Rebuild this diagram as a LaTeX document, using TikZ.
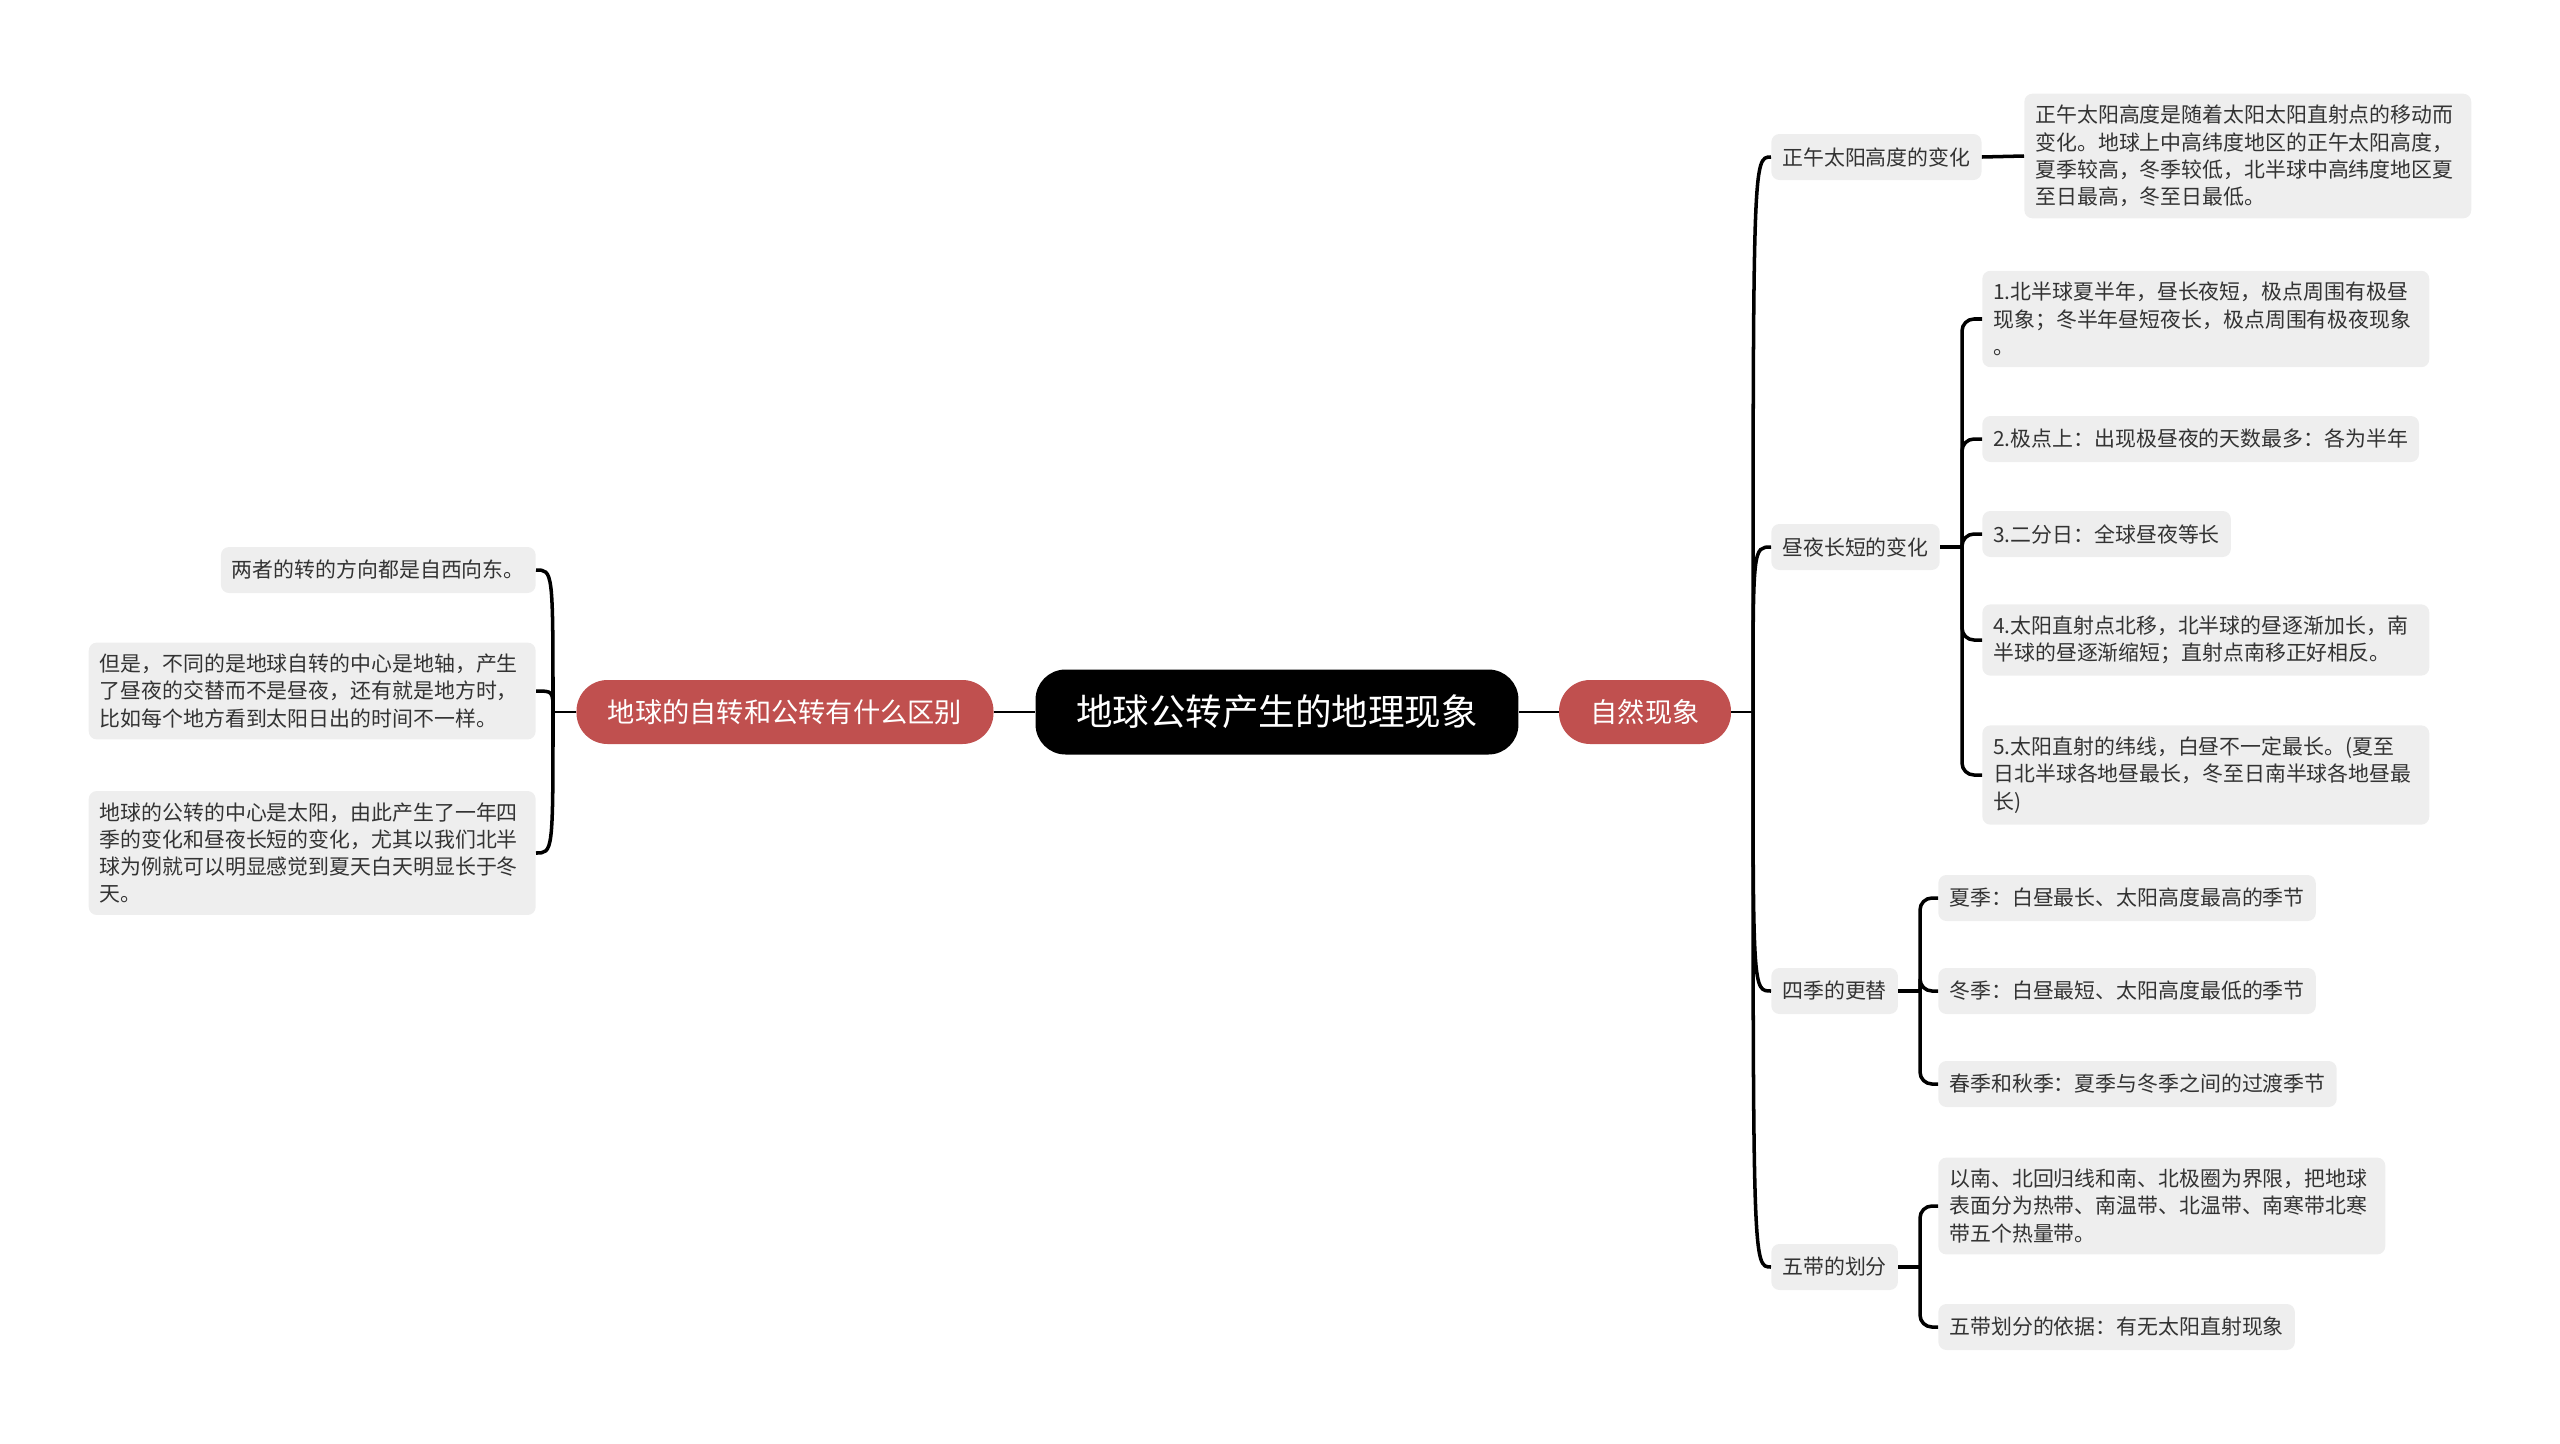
\documentclass[tikz,border=0pt]{standalone}
\usepackage{fontspec}
\setmainfont{Noto Sans CJK SC}
\usepackage{xcolor}
\usepackage{tikz}
\usetikzlibrary{positioning,calc}
\definecolor{ink}      {HTML}{000000}
\definecolor{ink2}     {HTML}{333333}
\definecolor{cardbg}   {HTML}{EEEEEE}
\definecolor{brick}    {HTML}{C0504F}
\tikzset{
  root/.style  = {rounded corners=0.6cm, fill=ink, text=white,
                  minimum height=1.7cm, minimum width=9.66cm, align=center,
                  font=\fontsize{20.8}{25}\selectfont, inner sep=0pt},
  topic/.style = {rounded corners=0.62cm, fill=brick, text=white,
                  minimum height=1.28cm, align=center,
                  font=\fontsize{15.5}{18}\selectfont, inner xsep=0.63cm, inner ysep=0pt},
  sub/.style   = {rounded corners=0.16cm, fill=cardbg, text=ink2,
                  minimum height=0.92cm, align=left,
                  font=\fontsize{11.9}{15.5}\selectfont, inner xsep=0.22cm, inner ysep=0.23cm},
  leafw/.style = {sub, text width=8.5cm},
  link/.style  = {draw=ink, line width=1.5pt},
  bow/.style   = {draw=ink, line width=2pt},
  elbow/.style = {draw=ink, line width=2pt, rounded corners=0.24cm},
}

\begin{document}
\begin{tikzpicture}[x=0.02cm, y=-0.02cm]
  \useasboundingbox (0,0) rectangle (2560,1444);

  % centre
  \node[root] (hub) at (1277,712) {地球公转产生的地理现象};
  \node[topic] (diff) at (785,712) {地球的自转和公转有什么区别};
  \node[topic] (nat) at (1645,712) {自然现象};
  \draw[link] (diff) -- (hub) -- (nat);

  % left column
  \coordinate (lj) at (553,712);
  \node[sub, anchor=east] (dir) at (536,570) {两者的转的方向都是自西向东。};
  \node[leafw, anchor=east] (rot) at (536,691)
    {但是，不同的是地球自转的中心是地轴，产生\\
     了昼夜的交替而不是昼夜，还有就是地方时，\\
     比如每个地方看到太阳日出的时间不一样。};
  \node[leafw, anchor=east] (rev) at (536,853)
    {地球的公转的中心是太阳，由此产生了一年四\\
     季的变化和昼夜长短的变化，尤其以我们北半\\
     球为例就可以明显感觉到夏天白天明显长于冬\\
     天。};
  \draw[link] (diff.west) -- (lj);
  \foreach \n in {dir,rot,rev}
    \draw[bow] (lj) .. controls (lj |- \n.east) .. (\n.east);

  % right column
  \coordinate (rj) at (1753,712);
  \node[sub, anchor=west] (noon) at (1771,157) {正午太阳高度的变化};
  \node[sub, anchor=west] (day) at (1771,547) {昼夜长短的变化};
  \node[sub, anchor=west] (season) at (1771,991) {四季的更替};
  \node[sub, anchor=west] (zone) at (1771,1267) {五带的划分};
  \draw[link] (nat.east) -- (rj);
  \foreach \n in {noon,day,season,zone}
    \draw[bow] (rj) .. controls (rj |- \n.west) .. (\n.west);

  % noon height
  \node[leafw, anchor=west] (noon1) at (2024,156)
    {正午太阳高度是随着太阳太阳直射点的移动而\\
     变化。地球上中高纬度地区的正午太阳高度，\\
     夏季较高，冬季较低，北半球中高纬度地区夏\\
     至日最高，冬至日最低。};
  \draw[bow] (noon.east) -- (noon1.west);

  % day length
  \coordinate (dj) at (1962,547);
  \node[leafw, anchor=west] (day1) at (1982,319)
    {1.北半球夏半年，昼长夜短，极点周围有极昼\\
     现象；冬半年昼短夜长，极点周围有极夜现象\\
     。};
  \node[sub, anchor=west] (day2) at (1982,439) {2.极点上：出现极昼夜的天数最多：各为半年};
  \node[sub, anchor=west] (day3) at (1982,534) {3.二分日：全球昼夜等长};
  \node[leafw, anchor=west] (day4) at (1982,640)
    {4.太阳直射点北移，北半球的昼逐渐加长，南\\
     半球的昼逐渐缩短；直射点南移正好相反。};
  \node[leafw, anchor=west] (day5) at (1982,775)
    {5.太阳直射的纬线，白昼不一定最长。(夏至\\
     日北半球各地昼最长，冬至日南半球各地昼最\\
     长)};
  \draw[bow] (day.east) -- (dj);
  \foreach \n in {day1,day2,day3,day4,day5}
    \draw[elbow] (dj) |- (\n.west);

  % seasons
  \coordinate (sj) at (1920,991);
  \node[sub, anchor=west] (sum) at (1938,898) {夏季：白昼最长、太阳高度最高的季节};
  \node[sub, anchor=west] (win) at (1938,991) {冬季：白昼最短、太阳高度最低的季节};
  \node[sub, anchor=west] (mid) at (1938,1084) {春季和秋季：夏季与冬季之间的过渡季节};
  \draw[bow] (season.east) -- (sj);
  \foreach \n in {sum,win,mid}
    \draw[elbow] (sj) |- (\n.west);

  % five zones
  \coordinate (zj) at (1920,1267);
  \node[leafw, anchor=west] (zone1) at (1938,1206)
    {以南、北回归线和南、北极圈为界限，把地球\\
     表面分为热带、南温带、北温带、南寒带北寒\\
     带五个热量带。};
  \node[sub, anchor=west] (zone2) at (1938,1327) {五带划分的依据：有无太阳直射现象};
  \draw[bow] (zone.east) -- (zj);
  \foreach \n in {zone1,zone2}
    \draw[elbow] (zj) |- (\n.west);
\end{tikzpicture}
\end{document}
